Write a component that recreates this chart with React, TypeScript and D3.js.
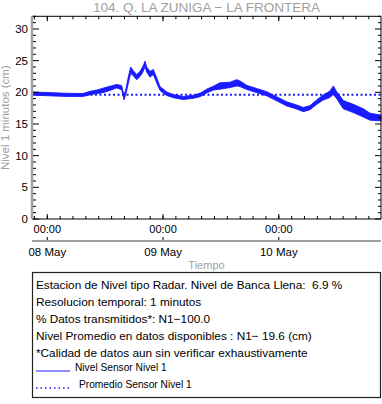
import React from "react";
import * as d3 from "d3";

// hours relative to 08 May 00:00
const hours = [-3.17, 4.0, 7.4, 8.85, 10.24, 11.55, 13.0, 14.39, 15.43, 15.9, 16.32, 16.79, 17.29, 17.83, 18.54, 19.22, 19.9, 20.26, 20.61, 21.29, 21.98, 22.68, 23.37, 24.76, 26.12, 28.2, 30.27, 31.66, 33.05, 34.42, 35.8, 37.88, 39.27, 39.95, 41.34, 43.42, 45.49, 47.56, 49.64, 51.71, 53.08, 54.47, 55.86, 57.23, 58.62, 59.3, 60.0, 61.37, 63.45, 65.52, 66.91, 69.19];
const levelLow = [19.55, 19.35, 19.35, 19.6, 19.8, 19.95, 20.3, 20.7, 20.4, 18.8, 19.8, 21.4, 23.0, 22.6, 22.0, 22.5, 23.3, 24.1, 23.2, 22.4, 22.8, 21.5, 20.3, 19.5, 19.15, 18.85, 19.05, 19.3, 19.9, 20.35, 20.5, 20.75, 21.0, 20.9, 20.45, 19.95, 19.45, 18.65, 17.85, 17.35, 16.95, 17.25, 18.1, 18.8, 19.2, 19.7, 19.0, 17.4, 16.8, 16.1, 15.6, 15.5];
const levelHigh = [20.05, 19.85, 19.8, 20.15, 20.35, 20.65, 20.95, 21.25, 21.05, 19.5, 20.6, 22.4, 24.0, 23.4, 22.8, 23.3, 24.2, 24.9, 24.0, 23.3, 23.6, 22.3, 20.9, 20.05, 19.65, 19.35, 19.55, 19.85, 20.5, 20.95, 21.5, 21.6, 22.0, 21.8, 21.1, 20.6, 20.1, 19.3, 18.5, 18.0, 17.6, 17.9, 18.8, 19.6, 20.2, 21.0, 20.1, 18.7, 18.1, 17.4, 16.7, 16.4];
const meanLevel = 19.6;
const yTicks = [0, 5, 10, 15, 20, 25, 30];
const dayTicks = ["08 May", "09 May", "10 May"];
const infoLines = [
  "Estacion de Nivel tipo Radar. Nivel de Banca Llena:  6.9 %",
  "Resolucion temporal: 1 minutos",
  "% Datos transmitidos*: N1\u2212100.0",
  "Nivel Promedio en datos disponibles : N1\u2212 19.6 (cm)",
  "*Calidad de datos aun sin verificar exhaustivamente",
];
const legendItems = ["Nivel Sensor Nivel 1", "Promedio Sensor Nivel 1"];

const FONT = "'Liberation Sans', Arial, Helvetica, sans-serif";
const BLUE = "#1a1aff";
const GRAY = "#a0a0a0";

export default function App() {
  const left = 32, right = 381, top = 16.3, bottom = 219;
  const t0 = Date.UTC(2024, 4, 8);
  const H = 3600 * 1000;
  const x = d3.scaleTime().domain([new Date(t0 + hours[0] * H), new Date(t0 + hours[hours.length - 1] * H)]).range([left, right]);
  const y = d3.scaleLinear().domain([0, 32]).range([bottom, top]);
  const pts = hours.map((h, i) => ({ t: new Date(t0 + h * H), lo: levelLow[i], hi: levelHigh[i] }));
  const area = d3.area<any>().x(d => x(d.t)).y0(d => y(d.lo)).y1(d => y(d.hi)).curve(d3.curveLinear);
  const minorY = d3.range(0, 33, 1);
  const majorX = dayTicks.map((_, i) => new Date(t0 + i * 24 * H));
  const minorX: Date[] = [];
  for (let k = -1; k < 30; k++) {
    const d = new Date(t0 + k * (24 / 9) * H);
    if (x(d) >= left && x(d) <= right) minorX.push(d);
  }
  const axis2Y = 241;
  return (
    <svg width={382} height={404} style={{ position: "absolute", left: 0, top: 0, background: "#fff" }} fontFamily={FONT}>
      <rect x={0} y={0} width={382} height={404} fill="#fff" />
      <text x={(left + right) / 2} y={12} textAnchor="middle" fontSize={13.5} fill={GRAY}>104. Q. LA ZUNIGA {"\u2212"} LA FRONTERA</text>
      {/* data */}
      <path d={area(pts) || ""} fill={BLUE} stroke={BLUE} strokeWidth={0.9} strokeLinejoin="round" />
      <line x1={left} x2={right} y1={y(meanLevel)} y2={y(meanLevel)} stroke={BLUE} strokeWidth={2} strokeDasharray="2 2.5" />
      {/* frame */}
      <line x1={left} x2={right} y1={top} y2={top} stroke="#000" strokeWidth={1} />
      <line x1={left} x2={right} y1={bottom} y2={bottom} stroke="#000" strokeWidth={1} />
      <line x1={right} x2={right} y1={top} y2={bottom} stroke="#000" strokeWidth={1} />
      <line x1={left} x2={left} y1={top} y2={bottom} stroke={GRAY} strokeWidth={2.5} />
      {minorY.map(v => (
        <g key={"y" + v}>
          <line x1={left + 1} x2={left + 1 + (v % 5 === 0 ? 6 : 3)} y1={y(v)} y2={y(v)} stroke="#000" />
          <line x1={right} x2={right - (v % 5 === 0 ? 6 : 3)} y1={y(v)} y2={y(v)} stroke="#000" />
        </g>
      ))}
      {yTicks.map(v => (
        <text key={"yl" + v} x={28} y={y(v) + 4} textAnchor="end" fontSize={11.5} fill="#000">{v}</text>
      ))}
      {minorX.map((d, i) => (
        <g key={"mx" + i}>
          <line x1={x(d)} x2={x(d)} y1={bottom} y2={bottom - 3} stroke="#000" />
          <line x1={x(d)} x2={x(d)} y1={top} y2={top + 3} stroke="#000" />
        </g>
      ))}
      {majorX.map((d, i) => (
        <g key={"Mx" + i}>
          <line x1={x(d)} x2={x(d)} y1={bottom} y2={bottom - 5} stroke="#000" />
          <line x1={x(d)} x2={x(d)} y1={top} y2={top + 5} stroke="#000" />
          <text x={x(d)} y={233} textAnchor="middle" fontSize={11} fill="#000">{d3.utcFormat("%H:%M")(d)}</text>
          <line x1={x(d)} x2={x(d)} y1={axis2Y} y2={axis2Y - 4} stroke="#000" />
          <text x={x(d)} y={256} textAnchor="middle" fontSize={11.5} fill="#000">{dayTicks[i]}</text>
        </g>
      ))}
      <line x1={left} x2={right} y1={axis2Y} y2={axis2Y} stroke={GRAY} strokeWidth={2} />
      <text x={(left + right) / 2} y={269} textAnchor="middle" fontSize={11} fill={GRAY}>Tiempo</text>
      <text transform={`translate(9,${(top + bottom) / 2}) rotate(-90)`} textAnchor="middle" fontSize={11.5} fill={GRAY}>Nivel 1 minutos (cm)</text>
      {/* info box */}
      <rect x={32.5} y={272.5} width={348} height={125} fill="none" stroke="#222" strokeWidth={1.2} />
      {infoLines.map((s, i) => (
        <text key={"il" + i} x={36} y={289 + i * 17} fontSize={11.8} fill="#000" style={{ whiteSpace: "pre" }}>{s}</text>
      ))}
      <line x1={36} x2={70} y1={371} y2={371} stroke={BLUE} strokeWidth={1.2} />
      <text x={75} y={371} fontSize={10.2} fill="#000">{legendItems[0]}</text>
      <line x1={36} x2={69} y1={388} y2={388} stroke={BLUE} strokeWidth={1.5} strokeDasharray="1.5 3" />
      <text x={79} y={388} fontSize={10.2} fill="#000">{legendItems[1]}</text>
    </svg>
  );
}
